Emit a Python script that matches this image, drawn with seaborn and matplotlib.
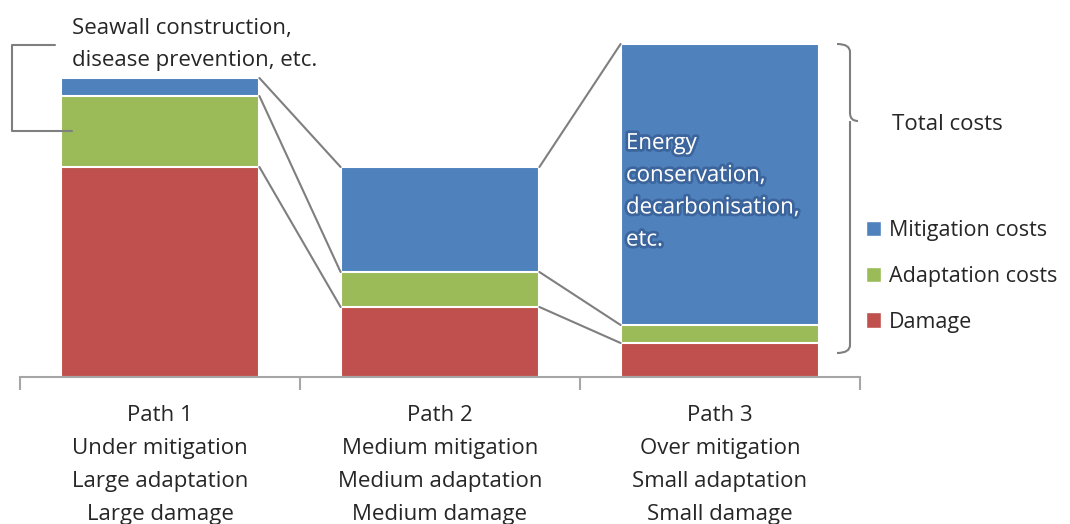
import seaborn as sns
import matplotlib.pyplot as plt
import matplotlib.patheffects as pe
from matplotlib.path import Path
from matplotlib.patches import PathPatch, Patch

paths = ["Path 1", "Path 2", "Path 3"]
path_labels = ["Path 1\nUnder mitigation\nLarge adaptation\nLarge damage",
               "Path 2\nMedium mitigation\nMedium adaptation\nMedium damage",
               "Path 3\nOver mitigation\nSmall adaptation\nSmall damage"]
damage = [210, 70, 34]
adaptation = [71, 35, 18]
mitigation = [18, 105, 281]

series = ["Mitigation costs", "Adaptation costs", "Damage"]
colors = {"Mitigation costs": "#4F81BD", "Adaptation costs": "#9BBB59", "Damage": "#C0504D"}

sns.set_theme(style="white")
plt.rcParams["font.family"] = ["Open Sans", "DejaVu Sans"]
text_color = "#262626"
gray = "#7F7F7F"
fs = 16
ls = 1.7

fig = plt.figure(figsize=(10.7, 5.24), dpi=100)
ax = fig.add_axes([20 / 1070, 1 - 377 / 524, 840 / 1070, 347 / 524])

lvl1 = damage
lvl2 = [d + a for d, a in zip(damage, adaptation)]
lvl3 = [l + m for l, m in zip(lvl2, mitigation)]
w = 0.71

# stacked bars drawn as overlapping cumulative totals
for vals, name in [(lvl3, "Mitigation costs"), (lvl2, "Adaptation costs"), (lvl1, "Damage")]:
    sns.barplot(x=paths, y=vals, color=colors[name], saturation=1, width=w,
                edgecolor="white", linewidth=1.5, ax=ax)

# series lines between the columns
for lv in [lvl1, lvl2, lvl3]:
    for i in range(len(paths) - 1):
        ax.plot([i + w / 2, i + 1 - w / 2], [lv[i], lv[i + 1]], color=gray, lw=1.5, zorder=1)

ax.set_xlim(-0.5, 2.5)
ax.set_ylim(0, 347)
ax.set_yticks([])
ax.set_ylabel("")
for s in ["left", "top", "right"]:
    ax.spines[s].set_visible(False)
ax.spines["bottom"].set_color("#A6A6A6")
ax.spines["bottom"].set_linewidth(1.5)

ax.set_xticks([0, 1, 2])
ax.set_xticklabels(path_labels, fontsize=fs, color=text_color, linespacing=1.75)
ax.set_xticks([-0.5, 0.5, 1.5, 2.5], minor=True)
ax.tick_params(axis="x", which="major", length=0, pad=20)
ax.tick_params(axis="x", which="minor", length=9, width=1.5, color="#A6A6A6", bottom=True)

def px(x, y):
    return (x - 20) / 280 - 0.5, 377 - y

# left callout bracket
bx, by = zip(*[px(55, 45), px(12, 45), px(12, 131), px(72, 131)])
ax.plot(bx, by, color=gray, lw=1.5, clip_on=False)
tx, ty = px(72, 18)
ax.text(tx, ty, "Seawall construction,\ndisease prevention, etc.", fontsize=fs,
        color=text_color, ha="left", va="top", linespacing=ls)

# text inside the mitigation bar of Path 3
ex, ey = px(626, 133)
ax.text(ex, ey, "Energy\nconservation,\ndecarbonisation,\netc.", fontsize=fs, color="white",
        ha="left", va="top", linespacing=ls,
        path_effects=[pe.withStroke(linewidth=4, foreground="#2E5386", alpha=0.6)])

# right brace for total costs
x0, _ = px(837, 0)
x1, _ = px(850, 0)
x2, _ = px(858, 0)
ytop, ymid, ybot = lvl3[2], 377 - 121, 377 - 353
verts = [(x0, ytop), (x1, ytop), (x1, ytop - 8), (x1, ymid + 8), (x1, ymid), (x2, ymid),
         (x1, ymid), (x1, ymid - 8), (x1, ybot + 8), (x1, ybot), (x0, ybot)]
codes = [Path.MOVETO, Path.CURVE3, Path.CURVE3, Path.LINETO, Path.CURVE3, Path.CURVE3,
         Path.MOVETO, Path.CURVE3, Path.LINETO, Path.CURVE3, Path.CURVE3]
ax.add_patch(PathPatch(Path(verts, codes), fill=False, edgecolor=gray, lw=1.5, clip_on=False))
lx, ly = px(892, 124)
ax.text(lx, ly, "Total costs", fontsize=fs, color=text_color, ha="left", va="center")

handles = [Patch(facecolor=colors[s], edgecolor="white", label=s) for s in series]
fig.legend(handles=handles, loc="upper left", bbox_to_anchor=(866 / 1070, 1 - 220 / 524),
           frameon=False, fontsize=15.5, handlelength=0.7, handleheight=0.7,
           handletextpad=0.35, labelspacing=1.15, borderpad=0, borderaxespad=0,
           labelcolor=text_color)

fig.savefig("out.png", dpi=100)
